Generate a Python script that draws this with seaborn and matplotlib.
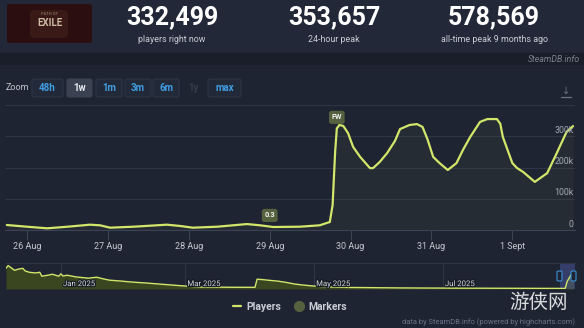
import numpy as np
import pandas as pd
import matplotlib
matplotlib.use("Agg")
import matplotlib.pyplot as plt
import matplotlib.transforms as mtransforms
import matplotlib.patheffects as pe
from matplotlib.patches import FancyBboxPatch, Rectangle
from matplotlib.lines import Line2D
import seaborn as sns

# ---------------- data ----------------
week_times = [
    "2025-08-25 18:00", "2025-08-26 00:00", "2025-08-26 06:00", "2025-08-26 12:00",
    "2025-08-26 18:40", "2025-08-26 21:40", "2025-08-27 00:40", "2025-08-27 07:30",
    "2025-08-27 17:30", "2025-08-27 21:20", "2025-08-28 01:10", "2025-08-28 08:25",
    "2025-08-28 17:15", "2025-08-28 21:10", "2025-08-29 01:00", "2025-08-29 08:50",
    "2025-08-29 14:50", "2025-08-29 17:50", "2025-08-29 18:40", "2025-08-29 19:25",
    "2025-08-29 19:55", "2025-08-29 20:40", "2025-08-29 21:50", "2025-08-29 23:15",
    "2025-08-30 00:45", "2025-08-30 02:50", "2025-08-30 05:45", "2025-08-30 06:40",
    "2025-08-30 08:40", "2025-08-30 10:50", "2025-08-30 13:10", "2025-08-30 14:40",
    "2025-08-30 17:30", "2025-08-30 19:40", "2025-08-30 21:20", "2025-08-30 22:50",
    "2025-08-31 00:30", "2025-08-31 02:25", "2025-08-31 04:50", "2025-08-31 07:25",
    "2025-08-31 09:20", "2025-08-31 11:30", "2025-08-31 14:25", "2025-08-31 16:35",
    "2025-08-31 19:25", "2025-08-31 20:25", "2025-08-31 21:10", "2025-09-01 00:00",
    "2025-09-01 01:25", "2025-09-01 03:10", "2025-09-01 06:40", "2025-09-01 10:20",
    "2025-09-01 13:10", "2025-09-01 16:05", "2025-09-01 18:00",
]
week_players = [
    16000, 10500, 5400, 10500, 17000, 15000, 7400, 10500,
    17000, 13000, 7400, 10500, 19000, 15000, 9600, 10500,
    15000, 25600, 80000, 250000, 325000, 336000, 333000, 310000,
    266000, 234000, 198000, 198000, 218000, 246000, 285000, 323000,
    336000, 339000, 330000, 290000, 234000, 214000, 192000, 214000,
    256000, 298000, 346000, 355000, 355000, 340000, 298000, 214000,
    198000, 186000, 154000, 182000, 246000, 314000, 332499,
]

marker_labels = ["0.3", "FW"]
marker_times = ["2025-08-29 00:00", "2025-08-29 19:55"]

x_tick_dates = ["2025-08-26", "2025-08-27", "2025-08-28", "2025-08-29",
                "2025-08-30", "2025-08-31", "2025-09-01"]
x_tick_labels = ["26 Aug", "27 Aug", "28 Aug", "29 Aug", "30 Aug", "31 Aug", "1 Sept"]
y_ticks = [0, 100000, 200000, 300000]
y_tick_labels = ["0", "100k", "200k", "300k"]

nav_dates = [
    "2024-12-06", "2024-12-07", "2024-12-09", "2024-12-10", "2024-12-12", "2024-12-14",
    "2024-12-15", "2024-12-17", "2024-12-20", "2024-12-22", "2024-12-23", "2024-12-26",
    "2024-12-28", "2024-12-31", "2025-01-01", "2025-01-02", "2025-01-04", "2025-01-08",
    "2025-01-14", "2025-01-18", "2025-01-21", "2025-01-24", "2025-01-29", "2025-02-04",
    "2025-02-10", "2025-02-17", "2025-02-23", "2025-03-01", "2025-03-08", "2025-03-22",
    "2025-04-03", "2025-04-04", "2025-04-07", "2025-04-09", "2025-04-14", "2025-04-18",
    "2025-04-22", "2025-04-26", "2025-05-01", "2025-05-09", "2025-05-19", "2025-06-11",
    "2025-07-04", "2025-07-28", "2025-08-23", "2025-08-28", "2025-08-29", "2025-08-31",
    "2025-09-01",
]
nav_players = [
    477000, 540000, 470000, 431000, 460000, 477000,
    420000, 386000, 370000, 386000, 295000, 320000,
    340000, 295000, 350000, 300000, 318000, 280000,
    250000, 272000, 235000, 204000, 185000, 159000,
    140000, 113000, 90000, 68000, 45000, 40000,
    38000, 227000, 215000, 204000, 181000, 150000,
    113000, 90000, 68000, 45000, 35000, 25000,
    20000, 17000, 14000, 14000, 180000, 340000,
    350000,
]
nav_label_dates = ["2025-01-01", "2025-03-01", "2025-05-01", "2025-07-01"]
nav_labels = ["Jan 2025", "Mar 2025", "May 2025", "Jul 2025"]

stat_values = ["332,499", "353,657", "578,569"]
stat_labels = ["players right now", "24-hour peak", "all-time peak 9 months ago"]
zoom_buttons = ["48h", "1w", "1m", "3m", "6m", "1y", "max"]

# ---------------- style ----------------
sns.set_theme(style="dark")
plt.rcParams["font.family"] = ["Roboto", "DejaVu Sans"]

BG = "#1f2432"
HEADER = "#222837"
BAND = "#1a1e28"
GRID = "#2e3545"
AXIS = "#3c4354"
LINE = "#d2e66a"
FILL = "#3c4820"
MARK = "#56623f"
TXT = "#c4c8d0"

W, H = 584, 328
fig = plt.figure(figsize=(W / 100, H / 100), dpi=100, facecolor=BG)


def fx(x):
    return x / W


def fy(y):
    return 1 - y / H


# background bands
fig.patches.append(Rectangle((0, fy(53)), 1, 53 / H, transform=fig.transFigure,
                             color=HEADER, zorder=0))
fig.patches.append(Rectangle((0, fy(64)), 1, 11 / H, transform=fig.transFigure,
                             color=BAND, zorder=0))

# ---------------- header ----------------
fig.patches.append(FancyBboxPatch((fx(7), fy(43)), fx(92) - fx(7), fy(4) - fy(43),
                                  boxstyle="round,pad=0,rounding_size=0.006",
                                  transform=fig.transFigure, fc="#2b0e0f", ec="none", zorder=1))
fig.patches.append(FancyBboxPatch((fx(30), fy(38)), fx(68) - fx(30), fy(10) - fy(38),
                                  boxstyle="round,pad=0,rounding_size=0.01",
                                  transform=fig.transFigure, fc="#3a1a16", ec="none", zorder=1))
fig.text(fx(49.5), fy(23), "EXILE", ha="center", va="center", fontsize=7,
         color="#cbbba3", fontweight="bold", zorder=2)
fig.text(fx(49.5), fy(14), "PATH OF", ha="center", va="center", fontsize=3,
         color="#9a8a77", zorder=2)

for cx, val, lab in zip([172, 334, 494], stat_values, stat_labels):
    fig.text(fx(cx), fy(17.5), val, ha="center", va="center", fontsize=18,
             fontweight="bold", color="#ffffff")
    fig.text(fx(cx), fy(39), lab, ha="center", va="center", fontsize=6.4, color="#c9cdd5")

fig.text(fx(580), fy(60), "SteamDB.info", ha="right", va="center", fontsize=6.3,
         color="#7a8190", style="italic")

# zoom buttons
fig.text(fx(6), fy(88), "Zoom", ha="left", va="center", fontsize=6.5, color="#c0c4cc")
btn_x = [(32, 63), (67, 92), (96, 122), (125, 151), (153, 179), (186, 200), (208, 241)]
for (x0, x1), lab in zip(btn_x, zoom_buttons):
    if lab == "1y":
        fig.text(fx((x0 + x1) / 2), fy(88), lab, ha="center", va="center", fontsize=7,
                 fontweight="bold", color="#363d4c")
        continue
    sel = lab == "1w"
    fig.patches.append(FancyBboxPatch((fx(x0), fy(97)), fx(x1) - fx(x0), fy(79) - fy(97),
                                      boxstyle="round,pad=0,rounding_size=0.005",
                                      transform=fig.transFigure,
                                      fc="#3a4252" if sel else "#222938",
                                      ec="#3a4252" if sel else "#2d3546", lw=0.8, zorder=1))
    fig.text(fx((x0 + x1) / 2), fy(88), lab, ha="center", va="center", fontsize=7,
             fontweight="bold", color="#e6e8ec" if sel else "#3f9ee2", zorder=2)

# download icon
fig.text(fx(566), fy(91), "↓", ha="center", va="center", fontsize=7, color="#6b7282",
         family=["DejaVu Sans"])
fig.add_artist(Line2D([fx(561), fx(571)], [fy(97), fy(97)], color="#6b7282", lw=0.9,
                      transform=fig.transFigure))

# ---------------- main chart ----------------
week_df = pd.DataFrame({"time": pd.to_datetime(week_times), "players": week_players})
ax = fig.add_axes([fx(5), fy(230), (575 - 5) / W, (230 - 105) / H])
ax.set_facecolor("none")
ax.fill_between(week_df["time"], week_df["players"], 0, color=LINE, alpha=0.045, lw=0)
sns.lineplot(data=week_df, x="time", y="players", ax=ax, color=LINE, linewidth=1.6)
ax.set_xlim(pd.Timestamp("2025-08-25 17:28"), pd.Timestamp("2025-09-01 18:35"))
ax.set_ylim(0, 400000)
ax.set_yticks(y_ticks + [400000])
ax.set_yticklabels([])
ax.yaxis.grid(True, color=GRID, lw=0.8)
ax.xaxis.grid(False)
ax.tick_params(axis="y", length=0)
for s in ["left", "right", "top"]:
    ax.spines[s].set_visible(False)
ax.spines["bottom"].set_color(AXIS)
ax.spines["bottom"].set_linewidth(0.8)
ax.set_xticks(pd.to_datetime(x_tick_dates))
ax.set_xticklabels(x_tick_labels)
ax.tick_params(axis="x", length=7, width=0.8, color=AXIS, labelcolor=TXT,
               labelsize=6.5, pad=1.5, direction="out", bottom=True)
ax.set_xlabel("")
ax.set_ylabel("")

trans = mtransforms.blended_transform_factory(ax.transAxes, ax.transData)
for v, lab in zip(y_ticks, y_tick_labels):
    ax.annotate(lab, xy=(0.998, v), xycoords=trans, xytext=(0, 1),
                textcoords="offset points", ha="right", va="bottom",
                fontsize=6.3, color="#a3a9b5")

tnum = week_df["time"].astype("int64").to_numpy()
for lab, t in zip(marker_labels, marker_times):
    ts = pd.Timestamp(t)
    yv = np.interp(ts.value, tnum, week_df["players"].to_numpy())
    ax.annotate(lab, xy=(ts, yv), xytext=(0, 8), textcoords="offset points",
                ha="center", va="center", fontsize=5.3, color="#f2f2f2", fontweight="bold",
                bbox=dict(boxstyle="round,pad=0.35,rounding_size=0.35", fc=MARK, ec="none"),
                zorder=5)

# ---------------- navigator ----------------
nav_df = pd.DataFrame({"date": pd.to_datetime(nav_dates), "players": nav_players})
nav = fig.add_axes([fx(6), fy(289), (575 - 6) / W, 26 / H])
nav.set_facecolor("none")
nav.fill_between(nav_df["date"], nav_df["players"], 0, color=FILL, alpha=0.95, lw=0)
sns.lineplot(data=nav_df, x="date", y="players", ax=nav, color=LINE, linewidth=1.0)
nav.set_xlim(pd.Timestamp("2024-12-06 00:00"), pd.Timestamp("2025-09-01 16:00"))
nav.set_ylim(0, 600000)
nav.set_xticks([])
nav.set_yticks([])
nav.set_xlabel("")
nav.set_ylabel("")
nav.grid(False)
for s in ["left", "right", "bottom"]:
    nav.spines[s].set_visible(False)
nav.spines["top"].set_color(GRID)
nav.spines["top"].set_linewidth(0.8)
for d, lab in zip(nav_label_dates, nav_labels):
    dt = pd.Timestamp(d)
    nav.axvline(dt, color=GRID, lw=0.8, zorder=0)
    nav.annotate(lab, xy=(dt, 0.19), xycoords=("data", "axes fraction"), xytext=(1.5, 0),
                 textcoords="offset points", ha="left", va="center", fontsize=5.6,
                 color="#d3d6dc",
                 path_effects=[pe.withStroke(linewidth=1.6, foreground="#151922")])
nav.axvspan(pd.Timestamp("2025-08-25 12:00"), pd.Timestamp("2025-09-01 16:00"),
            color="#4f5fae", alpha=0.45, lw=0)
for hx in [559.5, 573.5]:
    fig.patches.append(FancyBboxPatch((fx(hx - 2.5), fy(281)), 5 / W, 10 / H,
                                      boxstyle="round,pad=0,rounding_size=0.003",
                                      transform=fig.transFigure, fc="#1f2432",
                                      ec="#3b90d8", lw=0.8, zorder=5))

# ---------------- legend & credits ----------------
handles = [Line2D([], [], color=LINE, lw=1.6),
           Line2D([], [], marker="o", ls="none", color=MARK, markersize=7)]
leg = fig.legend(handles=handles, labels=["Players", "Markers"], loc="center",
                 bbox_to_anchor=(fx(290), fy(307)), ncol=2, frameon=False,
                 fontsize=7.5, handlelength=0.8, handletextpad=0.5, columnspacing=1.3,
                 prop={"weight": "bold", "size": 7.5})
for t in leg.get_texts():
    t.set_color("#c8ccd4")

fig.text(fx(575), fy(322), "data by SteamDB.info (powered by highcharts.com)",
         ha="right", va="center", fontsize=5.4, color="#6c7486")

fig.text(fx(539), fy(302), "游侠网", ha="center", va="center", fontsize=14,
         color="#f0f0f0", alpha=0.9, family=["Noto Sans CJK SC", "DejaVu Sans"])

fig.savefig("out.png", dpi=100, facecolor=BG)
